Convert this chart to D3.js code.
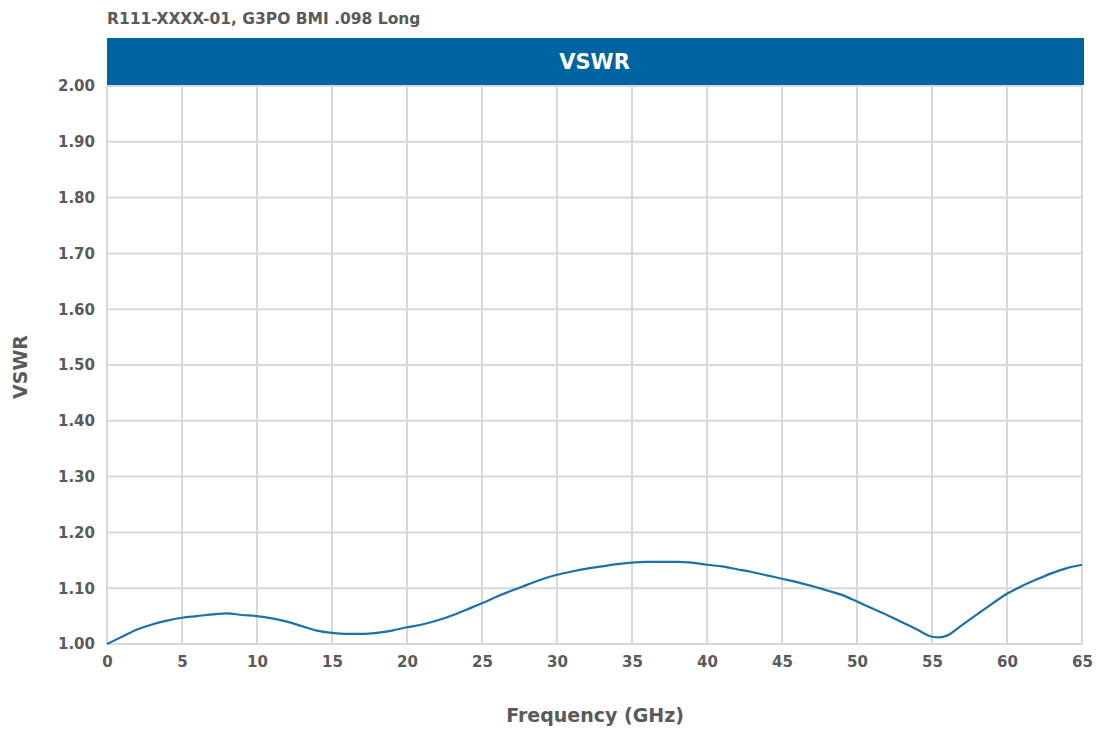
<!DOCTYPE html>
<html><head><meta charset="utf-8">
<script src="https://cdn.jsdelivr.net/npm/d3@7"></script>
<style>
body{margin:0;background:#fff;}
text{font-family:"DejaVu Sans","Liberation Sans",sans-serif;font-weight:bold;fill:#595a5c;}
</style></head>
<body><svg id="c" width="1096" height="729"></svg>
<script>
const titleText = "R111-XXXX-01, G3PO BMI .098 Long";
const panelTitle = "VSWR";
const yLabel = "VSWR";
const xLabel = "Frequency (GHz)";
const xTicks = [0,5,10,15,20,25,30,35,40,45,50,55,60,65];
const yTicks = [1.0,1.1,1.2,1.3,1.4,1.5,1.6,1.7,1.8,1.9,2.0];
const freq = [0,1,2,3,4,5,6,7,8,9,10,11,12,13,14,15,16,17,18,19,20,21,22,23,24,25,26,27,28,29,30,31,32,33,34,35,36,37,38,39,40,41,42,43,44,45,46,47,48,49,50,51,52,53,54,55,55.5,56,57,58,59,60,61,62,63,64,65];
const vswr = [1.000,1.013,1.026,1.035,1.042,1.047,1.050,1.053,1.055,1.052,1.050,1.046,1.040,1.032,1.024,1.020,1.018,1.018,1.020,1.024,1.030,1.035,1.042,1.051,1.062,1.073,1.085,1.096,1.106,1.116,1.124,1.130,1.135,1.139,1.143,1.146,1.147,1.147,1.147,1.146,1.142,1.139,1.134,1.129,1.123,1.117,1.111,1.104,1.096,1.088,1.076,1.064,1.052,1.039,1.026,1.013,1.012,1.015,1.034,1.053,1.072,1.090,1.104,1.116,1.127,1.136,1.142];

const svg = d3.select("#c");
const L=107, R=1082, T=86, B=644;
const x = d3.scaleLinear().domain([0,65]).range([L,R]);
const y = d3.scaleLinear().domain([1,2]).range([B,T]);

// grid
const g = svg.append("g");
g.selectAll("line.v").data(xTicks).join("line")
  .attr("x1",d=>x(d)).attr("x2",d=>x(d)).attr("y1",T).attr("y2",B)
  .attr("stroke","#d8d8d8").attr("stroke-width",2);
g.selectAll("line.h").data(yTicks).join("line")
  .attr("y1",d=>y(d)).attr("y2",d=>y(d)).attr("x1",L).attr("x2",R)
  .attr("stroke","#d8d8d8").attr("stroke-width",2);

// header bar
svg.append("rect").attr("x",L).attr("y",38).attr("width",R-L+2).attr("height",47).attr("fill","#0064a0");
svg.append("text").attr("x",(L+R)/2).attr("y",69).attr("text-anchor","middle")
  .style("fill","#fff").style("font-size","21px").text(panelTitle);

svg.append("text").attr("x",L).attr("y",24).style("font-size","15.5px").text(titleText);

// axes labels
const xa = d3.axisBottom(x).tickValues(xTicks).tickSize(0).tickPadding(12).tickFormat(d3.format("d"));
const xg = svg.append("g").attr("transform",`translate(0,${B})`).call(xa);
xg.select(".domain").remove();
xg.selectAll("text").style("font-size","15px").style("fill","#595a5c");
const ya = d3.axisLeft(y).tickValues(yTicks).tickSize(0).tickPadding(12).tickFormat(d3.format(".2f"));
const yg = svg.append("g").attr("transform",`translate(${L},0)`).call(ya);
yg.select(".domain").remove();
yg.selectAll("text").style("font-size","15px").style("fill","#595a5c");

svg.append("text").attr("x",595).attr("y",722).attr("text-anchor","middle")
  .style("font-size","19px").text(xLabel);
svg.append("text").attr("transform",`translate(27,${(T+B)/2+2}) rotate(-90)`).attr("text-anchor","middle")
  .style("font-size","19px").text(yLabel);

// line
const line = d3.line().x((d,i)=>x(freq[i])).y(d=>y(d)).curve(d3.curveMonotoneX);
svg.append("path").datum(vswr).attr("d",line).attr("fill","none")
  .attr("stroke","#1d70aa").attr("stroke-width",2.2);
</script></body></html>
